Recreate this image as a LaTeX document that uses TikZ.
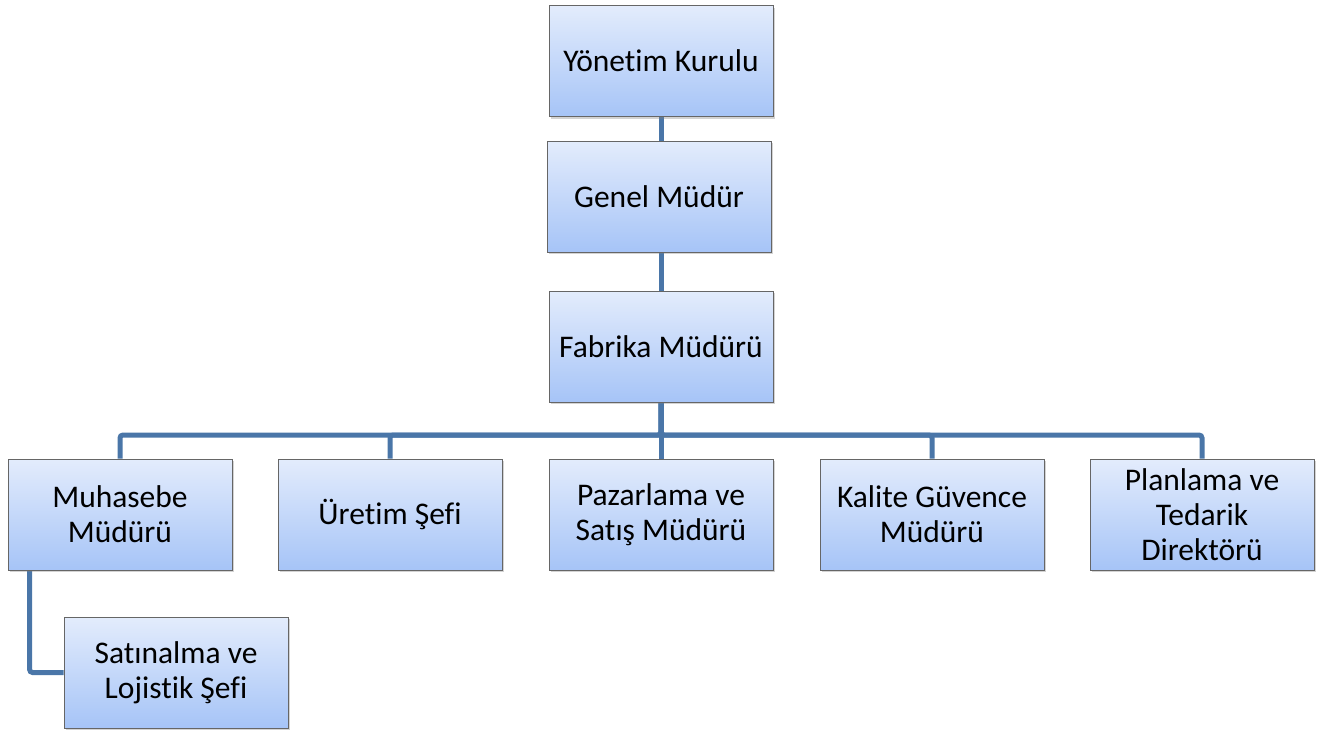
\documentclass[tikz,border=0pt]{standalone}
\usepackage{fontspec}
\setmainfont{Carlito}[Ligatures={NoCommon,NoContextual},RawFeature={-clig;-calt;-dlig}]
\usetikzlibrary{positioning,shadows,backgrounds}
\definecolor{boxtop}{HTML}{E3ECFC}
\definecolor{boxbot}{HTML}{A6C4F7}
\definecolor{linkblue}{HTML}{4A76A8}
\tikzset{font=\fontsize{31.5}{35}\selectfont}
\tikzset{unit/.style={draw=gray!80!black,line width=0.8pt,top color=boxtop,bottom color=boxbot,
    minimum width=224pt,minimum height=111pt,align=center,inner sep=2pt,
    drop shadow={shadow xshift=2pt,shadow yshift=-2pt,opacity=0.35}}}
\tikzset{link/.style={draw=linkblue,line width=5pt,rounded corners=3pt}}

\begin{document}
\begin{tikzpicture}[x=1pt,y=-1pt]
  \useasboundingbox (0,0) rectangle (1328,731);
  \node[unit] (yk) at (661,61) {Yönetim Kurulu};
  \node[unit] (gm) at (659,196.5) {Genel Müdür};
  \node[unit] (fm) at (661,346.5) {Fabrika Müdürü};
  \coordinate (bus) at (661,435);
  \node[unit] (muh) at (120,514.5) {Muhasebe\\Müdürü};
  \node[unit] (ure) at (390,514.5) {Üretim Şefi};
  \node[unit] (paz) at (661,514.5) {Pazarlama ve\\Satış Müdürü};
  \node[unit] (kal) at (932,514.5) {Kalite Güvence\\Müdürü};
  \node[unit] (pla) at (1202,514.5) {Planlama ve\\Tedarik\\Direktörü};
  \node[unit] (sat) at (176,672.5) {Satınalma ve\\Lojistik Şefi};
\begin{scope}[on background layer]
  \draw[link] (yk.south) -- (yk.south |- gm.north);
  \draw[link] (fm.north |- gm.south) -- (fm.north);
  \foreach \u in {muh,ure,paz,kal,pla}{
               \draw[link] (fm.south) -- (fm.south |- bus) -| (\u.north);
};
  \draw[link] ([xshift=22pt]muh.south west) |- (sat.west);
\end{scope}
\end{tikzpicture}
\end{document}
